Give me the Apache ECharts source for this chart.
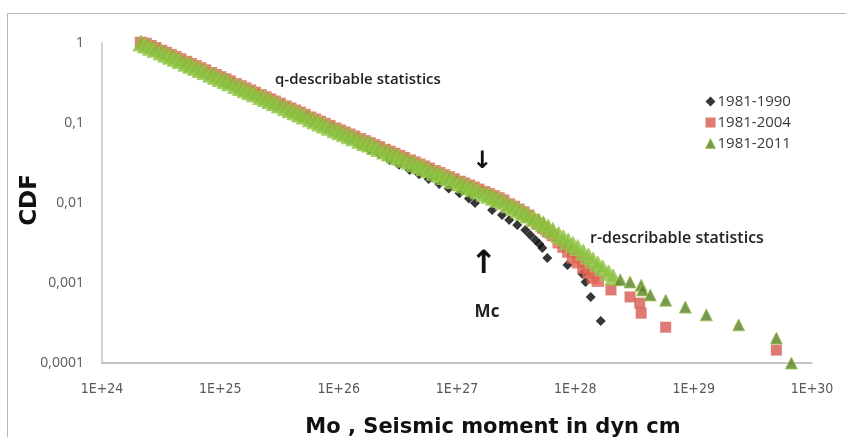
<!DOCTYPE html>
<html>
<head>
<meta charset="utf-8">
<script src="https://cdn.jsdelivr.net/npm/echarts@6/dist/echarts.min.js"></script>
<style>html,body{margin:0;padding:0;background:#fff}#c{width:846px;height:437px}</style>
</head>
<body>
<div id="c"></div>
<script>
const seriesNames = ['1981-1990', '1981-2004', '1981-2011'];
const xTickLabels = ['1E+24', '1E+25', '1E+26', '1E+27', '1E+28', '1E+29', '1E+30'];
const yTickLabels = ['0,0001', '0,001', '0,01', '0,1', '1'];

const black1990 = [
[2.14e24,1.00],[2.57e24,0.867],[3.16e24,0.757],[3.80e24,0.669],[4.57e24,0.593],[5.62e24,0.516],[6.76e24,0.458],[8.32e24,0.399],
[1.00e25,0.353],[1.20e25,0.313],[1.48e25,0.272],[1.78e25,0.241],[2.19e25,0.210],[2.63e25,0.186],[3.16e25,0.163],[3.89e25,0.142],
[4.68e25,0.1245],[5.75e25,0.107],[6.92e25,0.094],[8.32e25,0.0824],[1.02e26,0.0716],[1.23e26,0.0623],[1.51e26,0.0534],[1.82e26,0.0459],
[2.19e26,0.0409],[2.69e26,0.0345],[3.24e26,0.0300],[3.98e26,0.0259],[4.79e26,0.0228],[5.75e26,0.0200],[7.08e26,0.0173],[8.51e26,0.0152],
[1.05e27,0.0132],[1.26e27,0.0114],[1.42e27,0.0100],[1.98e27,0.00818],[2.40e27,0.00708],[2.76e27,0.00613],[3.23e27,0.00531],[3.78e27,0.00460],
[4.16e27,0.00398],[4.59e27,0.00345],[4.97e27,0.00307],[5.26e27,0.00274],[5.80e27,0.00205],[8.59e27,0.00168],[1.15e28,0.00130],
[1.22e28,0.00103],[1.35e28,0.00067],[1.64e28,0.000335]
];

const red2004 = [
[2.14e24,1.00],[2.34e24,0.97],[2.57e24,0.91],[2.82e24,0.858],[3.16e24,0.795],[3.47e24,0.748],[3.80e24,0.703],[4.17e24,0.662],
[4.57e24,0.623],[5.13e24,0.577],[5.62e24,0.543],[6.17e24,0.511],[6.76e24,0.481],[7.41e24,0.452],[8.32e24,0.419],[9.12e24,0.394],
[1.00e25,0.371],[1.10e25,0.349],[1.20e25,0.329],[1.35e25,0.304],[1.48e25,0.286],[1.62e25,0.269],[1.78e25,0.253],[1.95e25,0.238],
[2.19e25,0.221],[2.40e25,0.208],[2.63e25,0.196],[2.88e25,0.184],[3.16e25,0.173],[3.55e25,0.160],[3.89e25,0.151],[4.27e25,0.142],
[4.68e25,0.1336],[5.13e25,0.1257],[5.75e25,0.1164],[6.31e25,0.1096],[6.92e25,0.103],[7.59e25,0.097],[8.32e25,0.0913],[9.33e25,0.0849],
[1.02e26,0.0801],[1.12e26,0.0756],[1.23e26,0.0713],[1.35e26,0.0673],[1.51e26,0.0625],[1.66e26,0.0589],[1.82e26,0.0556],[2.00e26,0.0524],
[2.19e26,0.0495],[2.45e26,0.0459],[2.69e26,0.0434],[2.95e26,0.0409],[3.24e26,0.0386],[3.55e26,0.0364],[3.98e26,0.0338],[4.37e26,0.0319],
[4.79e26,0.0301],[5.25e26,0.0284],[5.75e26,0.0268],[6.46e26,0.0249],[7.08e26,0.0235],[7.76e26,0.0221],[8.51e26,0.0209],[9.33e26,0.0197],
[1.05e27,0.0183],[1.15e27,0.0174],[1.26e27,0.0164],[1.38e27,0.0155],[1.51e27,0.0146],[1.70e27,0.0136],[1.86e27,0.0128],[2.04e27,0.0121],
[2.24e27,0.0114],[2.45e27,0.0107],[2.75e27,0.00955],[3.02e27,0.00891],[3.31e27,0.00822],[3.63e27,0.00759],[3.98e27,0.00692],[4.47e27,0.00610],
[4.90e27,0.00550],[5.37e27,0.00490],[5.89e27,0.00442],[6.46e27,0.00398],[7.24e27,0.00324],[7.94e27,0.00285],[8.71e27,0.00248],[9.55e27,0.00209],
[1.05e28,0.00182],[1.17e28,0.00155],[1.29e28,0.00136],[1.41e28,0.00117],[1.55e28,0.00107],
[2.0e28,0.00082],[2.9e28,0.00067],[3.5e28,0.00056],[3.6e28,0.00042],[5.8e28,0.00028],[5.0e29,0.000145]
];

const green2011 = [
[2.14e24,1.00],[2.34e24,0.941],[2.57e24,0.885],[2.82e24,0.833],[3.16e24,0.772],[3.47e24,0.726],[3.80e24,0.683],[4.17e24,0.643],
[4.57e24,0.605],[5.13e24,0.560],[5.62e24,0.527],[6.17e24,0.496],[6.76e24,0.467],[7.41e24,0.439],[8.32e24,0.407],[9.12e24,0.383],
[1.00e25,0.360],[1.10e25,0.339],[1.20e25,0.319],[1.35e25,0.295],[1.48e25,0.278],[1.62e25,0.261],[1.78e25,0.246],[1.95e25,0.231],
[2.19e25,0.2145],[2.40e25,0.202],[2.63e25,0.190],[2.88e25,0.179],[3.16e25,0.168],[3.55e25,0.1557],[3.89e25,0.1466],[4.27e25,0.1378],
[4.68e25,0.1297],[5.13e25,0.122],[5.75e25,0.113],[6.31e25,0.1064],[6.92e25,0.100],[7.59e25,0.0942],[8.32e25,0.0886],[9.33e25,0.0824],
[1.02e26,0.0778],[1.12e26,0.0734],[1.23e26,0.0692],[1.35e26,0.0653],[1.51e26,0.0607],[1.66e26,0.0572],[1.82e26,0.0546],[2.00e26,0.0509],
[2.19e26,0.0481],[2.45e26,0.0446],[2.69e26,0.0421],[2.95e26,0.0397],[3.24e26,0.0375],[3.55e26,0.0353],[3.98e26,0.0332],[4.37e26,0.0310],
[4.79e26,0.0292],[5.25e26,0.0276],[5.75e26,0.0260],[6.46e26,0.0242],[7.08e26,0.0228],[7.76e26,0.0215],[8.51e26,0.0206],[9.33e26,0.0191],
[1.05e27,0.0178],[1.15e27,0.0169],[1.26e27,0.0159],[1.38e27,0.01505],[1.51e27,0.0142],[1.70e27,0.0132],[1.86e27,0.01247],[2.04e27,0.01178],
[2.24e27,0.01112],[2.45e27,0.01046],[2.75e27,0.00953],[3.02e27,0.00884],[3.31e27,0.00820],[3.63e27,0.00762],[3.98e27,0.00707],[4.47e27,0.00644],
[4.90e27,0.00597],[5.37e27,0.00550],[5.89e27,0.00500],[6.46e27,0.00455],[7.24e27,0.00404],[7.94e27,0.00367],[8.71e27,0.00334],[9.55e27,0.00304],
[1.05e28,0.00277],[1.17e28,0.00244],[1.29e28,0.00218],[1.41e28,0.00194],[1.55e28,0.00173],[1.70e28,0.00155],[1.91e28,0.00134],[2.09e28,0.00119],
[2.4e28,0.00110],[2.9e28,0.00103],[3.6e28,0.00094],[3.7e28,0.00082],[4.3e28,0.00071],[5.8e28,0.00061],[8.5e28,0.00050],[1.28e29,0.00040],
[2.4e29,0.00030],[5.0e29,0.000205],[6.7e29,0.000100]
];

const chart = echarts.init(document.getElementById('c'), null, {renderer: 'canvas'});

const labelFont = '"Open Sans", "Liberation Sans", sans-serif';
const GREEN_BAND = '#88C13E', GREEN_DARK = '#587F24';
const RED_BAND = '#DD6152', RED_DARK = '#D65A52';

chart.setOption({
  animation: false,
  backgroundColor: '#ffffff',
  grid: {left: 102, right: 34, top: 43, bottom: 74, containLabel: false},
  legend: {
    orient: 'vertical',
    left: 700,
    top: 89,
    itemWidth: 10,
    itemHeight: 10,
    itemGap: 6,
    data: [
      {name: seriesNames[0], itemStyle: {color: '#050505'}},
      {name: seriesNames[1], itemStyle: {color: RED_DARK}},
      {name: seriesNames[2], itemStyle: {color: GREEN_DARK, borderColor: '#9CCB50', borderWidth: 1}}
    ],
    textStyle: {fontSize: 15, fontFamily: labelFont, color: '#3a3a3a', padding: [0, 0, 0, -3]}
  },
  xAxis: {
    type: 'log',
    logBase: 10,
    min: 1e24,
    max: 1e30,
    splitLine: {show: false},
    axisTick: {show: false},
    axisLine: {lineStyle: {color: '#b8b0b0', width: 1.5}},
    axisLabel: {
      margin: 19,
      color: '#595959',
      fontSize: 14,
      fontFamily: '"Liberation Sans Narrow", "DejaVu Sans Condensed", sans-serif',
      formatter: v => xTickLabels[Math.round(Math.log10(v)) - 24]
    }
  },
  yAxis: {
    type: 'log',
    logBase: 10,
    min: 1e-4,
    max: 1,
    splitLine: {show: false},
    axisTick: {show: false},
    axisLine: {show: true, lineStyle: {color: '#c8bebe', width: 1.5}},
    axisLabel: {
      margin: 18,
      color: '#595959',
      fontSize: 14,
      fontFamily: labelFont,
      formatter: v => yTickLabels[Math.round(Math.log10(v)) + 4]
    }
  },
  series: [
    {
      name: seriesNames[0], type: 'scatter', symbol: 'diamond', symbolSize: 10,
      data: black1990, itemStyle: {color: '#050505'}
    },
    {
      name: seriesNames[1], type: 'scatter', symbol: 'rect',
      symbolSize: v => (v[1] > 0.001 ? 12.5 : 11),
      data: red2004,
      itemStyle: {color: p => (p.value[1] > 0.001 ? RED_BAND : RED_DARK)}
    },
    {
      name: seriesNames[2], type: 'scatter', symbol: 'triangle',
      symbolSize: v => (v[1] > 0.00115 ? 16 : 12),
      data: green2011,
      itemStyle: {color: p => (p.value[1] > 0.00115 ? GREEN_BAND : GREEN_DARK), borderColor: '#9CCB50', borderWidth: 1}
    }
  ],
  graphic: [
    {type: 'rect', silent: true, shape: {x: 7.5, y: 13.5, width: 900, height: 500},
     style: {fill: 'none', stroke: '#b8b8b8', lineWidth: 1}},
    {type: 'text', x: 30, y: 200, rotation: Math.PI / 2,
     style: {text: 'CDF', font: 'bold 23px "DejaVu Sans"', fill: '#111', textAlign: 'center', textVerticalAlign: 'middle'}},
    {type: 'text', x: 493, y: 428,
     style: {text: 'Mo , Seismic moment in dyn cm', font: 'bold 21px "DejaVu Sans"', fill: '#111', textAlign: 'center', textVerticalAlign: 'middle'}},
    {type: 'text', x: 275, y: 80,
     style: {text: 'q-describable statistics', font: '600 15px "Open Sans"', fill: '#222', textAlign: 'left', textVerticalAlign: 'middle'}},
    {type: 'text', x: 590, y: 238,
     style: {text: 'r-describable statistics', font: '600 16px "Open Sans"', fill: '#222', textAlign: 'left', textVerticalAlign: 'middle'}},
    {type: 'text', x: 482, y: 162,
     style: {text: '↓', font: 'bold 24px "DejaVu Sans"', fill: '#111', textAlign: 'center', textVerticalAlign: 'middle'}},
    {type: 'text', x: 484, y: 265,
     style: {text: '↑', font: 'bold 32px "DejaVu Sans"', fill: '#111', textAlign: 'center', textVerticalAlign: 'middle'}},
    {type: 'text', x: 487, y: 312,
     style: {text: 'Mc', font: 'bold 17px "Open Sans"', fill: '#222', textAlign: 'center', textVerticalAlign: 'middle'}}
  ]
});
</script>
</body>
</html>
